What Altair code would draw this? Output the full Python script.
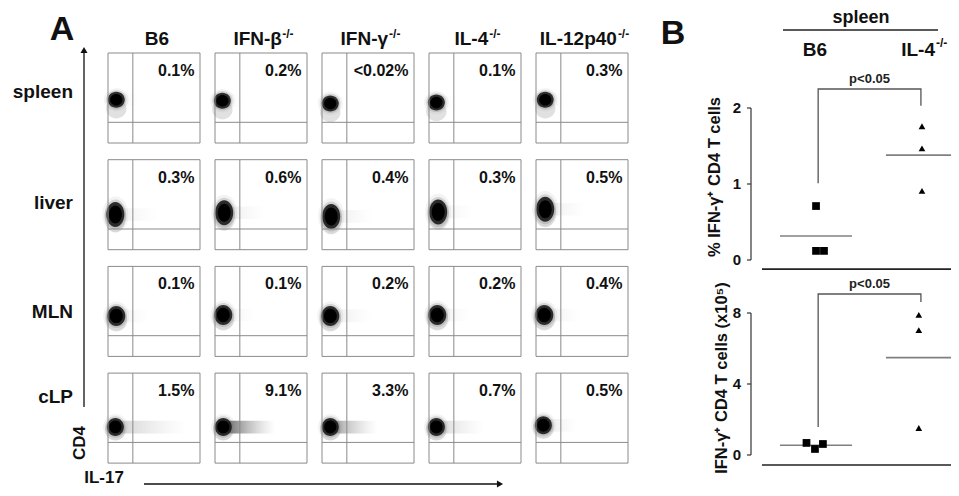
import altair as alt
import pandas as pd

# ---------------- data ----------------
tissues = ["spleen", "liver", "MLN", "cLP"]
strains = ["B6", "IFN-β", "IFN-γ", "IL-4", "IL-12p40"]
strain_sup = ["", "-/-", "-/-", "-/-", "-/-"]

pct_il17 = [
    ["0.1%", "0.2%", "<0.02%", "0.1%", "0.3%"],
    ["0.3%", "0.6%", "0.4%", "0.3%", "0.5%"],
    ["0.1%", "0.1%", "0.2%", "0.2%", "0.4%"],
    ["1.5%", "9.1%", "3.3%", "0.7%", "0.5%"],
]
# centre of the CD4+ IL-17- population (fraction of each plot axis)
pop_il17 = [
    [0.09, 0.08, 0.09, 0.08, 0.10],
    [0.08, 0.10, 0.10, 0.10, 0.10],
    [0.09, 0.09, 0.09, 0.09, 0.09],
    [0.08, 0.09, 0.09, 0.08, 0.08],
]
pop_cd4 = [
    [0.48, 0.47, 0.44, 0.45, 0.48],
    [0.39, 0.41, 0.37, 0.42, 0.45],
    [0.45, 0.46, 0.45, 0.46, 0.46],
    [0.40, 0.40, 0.40, 0.40, 0.42],
]
# reach and density of the IL-17+ tail of events
tail_end = [
    [0.35, 0.30, 0.30, 0.30, 0.35],
    [0.55, 0.55, 0.55, 0.50, 0.55],
    [0.45, 0.45, 0.55, 0.45, 0.50],
    [0.85, 0.65, 0.60, 0.60, 0.45],
]
tail_density = [
    [0.04, 0.04, 0.02, 0.04, 0.04],
    [0.07, 0.09, 0.09, 0.06, 0.08],
    [0.06, 0.06, 0.09, 0.07, 0.07],
    [0.22, 0.70, 0.45, 0.18, 0.10],
]
gate_il17 = 0.27
gate_cd4 = 0.23

groups_b = ["B6", "IL-4"]
pct_b6 = [0.71, 0.12, 0.12]
pct_il4 = [1.76, 1.47, 0.91]
num_b6 = [0.68, 0.34, 0.62]
num_il4 = [7.89, 7.04, 1.52]
jit_pct_b6 = [0.0, 0.0, 0.075]
jit_pct_il4 = [0.0, 0.0, 0.0]
jit_num_b6 = [-0.09, -0.01, 0.065]
jit_num_il4 = [-0.03, -0.03, -0.03]
ticks_pct = [0, 1, 2]
ticks_num = [0, 4, 8]
p_text = "p<0.05"

# ---------------- layout / style ----------------
FONT = "Liberation Sans"
W, H = 943, 480
A_X0, A_Y0 = 100, 45
BOX_W, BOX_H = 92, 90
PITCH_X, PITCH_Y = 107, 106.7
pu = PITCH_X / BOX_W
pv = PITCH_Y / BOX_H
xA = alt.Scale(domain=[0, 4 * pu + 1], range=[A_X0, A_X0 + 4 * PITCH_X + BOX_W], nice=False, zero=False)
yA = alt.Scale(domain=[0, 3 * pv + 1], range=[A_Y0 + 3 * PITCH_Y + BOX_H, A_Y0], nice=False, zero=False)
# blob (w, h) in px and downward spread of the lower tail, per tissue
blob_px = {"spleen": (17, 16), "liver": (18, 25), "MLN": (18, 20), "cLP": (17, 18)}
blob_drop = {"spleen": 0.10, "liver": 0.03, "MLN": 0.04, "cLP": 0.03}
label_fy = [0.57, 0.52, 0.49, 0.73]


def ellipse(a):
    return f"M{-a},0 A{a},1 0 1,0 {a},0 A{a},1 0 1,0 {-a},0 Z"


recs = []
for r, t in enumerate(tissues):
    bw, bh = blob_px[t]
    for c, s in enumerate(strains):
        x0 = c * pu
        y0 = (3 - r) * pv
        bx = x0 + pop_il17[r][c]
        by = y0 + pop_cd4[r][c]
        recs.append(dict(
            tissue=t, strain=s, pct=pct_il17[r][c],
            x0=x0, x1=x0 + 1, y0=y0, y1=y0 + 1,
            gx=x0 + gate_il17, gy=y0 + gate_cd4,
            bx=bx, by=by, by2=by - blob_drop[t],
            tx0=bx + 0.05, tx1=x0 + tail_end[r][c], ty0=by - 0.07, ty1=by + 0.07,
            dens=tail_density[r][c],
            px=x0 + 0.94, py=y0 + 0.80,
            shape=ellipse(bw / bh),
            s_in=(bh * 0.72) ** 2, s_core=bh ** 2, s_halo=(bh * 1.2) ** 2, s_out=(bh * 1.45) ** 2,
        ))
cells = pd.DataFrame(recs)

XA = lambda f: alt.X(f, scale=xA, axis=None)
YA = lambda f: alt.Y(f, scale=yA, axis=None)

grad = alt.LinearGradient(
    gradient="linear", x1=0, x2=1, y1=0, y2=0,
    stops=[alt.GradientStop(color="#333333", offset=0),
           alt.GradientStop(color="rgba(150,150,150,0)", offset=1)],
)
tails = alt.Chart(cells).mark_rect(color=grad).encode(
    x=XA("tx0:Q"), x2="tx1:Q", y=YA("ty0:Q"), y2="ty1:Q",
    opacity=alt.Opacity("dens:Q", scale=None))


def blob(yfield, size_field, color, op):
    return alt.Chart(cells).mark_point(filled=True, strokeWidth=0).encode(
        x=XA("bx:Q"), y=YA(f"{yfield}:Q"),
        shape=alt.Shape("shape:N", scale=None),
        size=alt.Size(f"{size_field}:Q", scale=None),
        color=alt.value(color), opacity=alt.value(op))


blobs = [
    blob("by", "s_out", "#999999", 0.12),
    blob("by2", "s_halo", "#888888", 0.25),
    blob("by", "s_halo", "#666666", 0.22),
    blob("by", "s_core", "#111111", 0.85),
    blob("by", "s_in", "#000000", 1.0),
]

boxes = alt.Chart(cells).mark_rect(fillOpacity=0, stroke="#8a8a8a", strokeWidth=1).encode(
    x=XA("x0:Q"), x2="x1:Q", y=YA("y0:Q"), y2="y1:Q")
vgate = alt.Chart(cells).mark_rule(color="#8a8a8a", strokeWidth=1).encode(
    x=XA("gx:Q"), y=YA("y0:Q"), y2="y1:Q")
hgate = alt.Chart(cells).mark_rule(color="#8a8a8a", strokeWidth=1).encode(
    x=XA("x0:Q"), x2="x1:Q", y=YA("gy:Q"))
pcts = alt.Chart(cells).mark_text(align="right", baseline="middle", font=FONT,
                                  fontWeight="bold", fontSize=16, color="#111").encode(
    x=XA("px:Q"), y=YA("py:Q"), text="pct:N")

rowlab = pd.DataFrame({"tissue": tissues,
                       "ly": [(3 - r) * pv + label_fy[r] for r in range(4)]})
rowlabels = alt.Chart(rowlab).mark_text(align="right", baseline="middle", font=FONT,
                                        fontWeight="bold", fontSize=19, color="#111").encode(
    x=alt.value(65), y=YA("ly:Q"), text="tissue:N")

# column titles with superscript
CW = {"B": 722, "6": 556, "I": 278, "F": 611, "N": 722, "-": 333, "β": 575, "γ": 556,
      "L": 611, "4": 556, "1": 556, "2": 556, "p": 611, "0": 556, "/": 278}


def tw(s, size):
    return sum(CW.get(ch, 556) for ch in s) / 1000 * size


title_layers = []
TS, SS = 19, 12
for c, (s, sup) in enumerate(zip(strains, strain_sup)):
    wm, ws = tw(s, TS), (tw(sup, SS) + 2 if sup else 0)
    start = 3 - (wm + ws) / 2
    d = pd.DataFrame({"cx": [c * pu + 0.5], "main": [s], "sup": [sup]})
    title_layers.append(alt.Chart(d).mark_text(align="left", baseline="alphabetic", dx=start,
                                               font=FONT, fontWeight="bold", fontSize=TS, color="#111").encode(
        x=XA("cx:Q"), y=alt.value(37), text="main:N"))
    if sup:
        title_layers.append(alt.Chart(d).mark_text(align="left", baseline="alphabetic", dx=start + wm + 1,
                                                   font=FONT, fontWeight="bold", fontSize=SS, color="#111").encode(
            x=XA("cx:Q"), y=alt.value(30), text="sup:N"))

panelA = alt.layer(tails, *blobs, boxes, vgate, hgate, pcts, rowlabels, *title_layers)

# ---------------- panel B ----------------
xB = alt.Scale(domain=[-0.51, 1.34], range=[754, 950], nice=False, zero=False)


def dot_panel(b6, il4, jb6, jil4, ticks, yrange, base, bracket, title, title_xy):
    ymin, ymax = ticks[0], ticks[-1]
    yB = alt.Scale(domain=[ymin, ymax], range=yrange, nice=False, zero=False)
    XB = lambda f: alt.X(f, scale=xB, axis=None)
    YB = lambda f: alt.Y(f, scale=yB, axis=None)
    df = pd.DataFrame({
        "group": ["B6"] * len(b6) + ["IL-4"] * len(il4),
        "gx": [0] * len(b6) + [1] * len(il4),
        "value": b6 + il4,
        "xpos": [j for j in jb6] + [1 + j for j in jil4],
    })
    sq = alt.Chart(df).transform_filter(alt.datum.group == "B6").mark_point(
        shape="square", filled=True, size=60, color="black", opacity=1).encode(
        x=XB("xpos:Q"), y=YB("value:Q"))
    tri = alt.Chart(df).transform_filter(alt.datum.group == "IL-4").mark_point(
        shape="triangle-up", filled=True, size=45, color="black", opacity=1).encode(
        x=XB("xpos:Q"), y=YB("value:Q"))
    mean = alt.Chart(df).transform_aggregate(m="mean(value)", groupby=["gx"]).transform_calculate(
        xl="datum.gx - 0.34", xr="datum.gx + 0.34").mark_rule(color="#808080", strokeWidth=1.6).encode(
        x=XB("xl:Q"), x2="xr:Q", y=YB("m:Q"))
    bx, by = bracket
    br = pd.DataFrame({"bx": bx, "by": by, "o": list(range(len(bx)))})
    brk = alt.Chart(br).mark_line(color="#555555", strokeWidth=1.3).encode(
        x=XB("bx:Q"), y=YB("by:Q"), order="o:O")
    ptxt = alt.Chart(pd.DataFrame({"x": [(bx[1] + bx[2]) / 2], "y": [by[1]], "t": [p_text]})).mark_text(
        baseline="bottom", dy=-3, font=FONT, fontWeight="bold", fontSize=13, color="#222").encode(
        x=XB("x:Q"), y=YB("y:Q"), text="t:N")
    basel = alt.Chart(pd.DataFrame({"y": [base], "a": [-0.51], "b": [1.34]})).mark_rule(
        color="#222", strokeWidth=1.6).encode(x=XB("a:Q"), x2="b:Q", y=YB("y:Q"))
    tk = pd.DataFrame({"t": ticks, "lab": [str(v) for v in ticks]})
    dom = alt.Chart(tk).transform_aggregate(lo="min(t)", hi="max(t)").mark_rule(
        color="#333", strokeWidth=1.2).encode(x=alt.value(743), y=YB("lo:Q"), y2="hi:Q")
    tks = alt.Chart(tk).mark_rule(color="#333", strokeWidth=1.2).encode(
        x=alt.value(739), x2=alt.value(743), y=YB("t:Q"))
    tlab = alt.Chart(tk).mark_text(align="center", baseline="middle", font=FONT, fontWeight="bold",
                                   fontSize=15, color="#111").encode(
        x=alt.value(729), y=YB("t:Q"), text="lab:N")
    ttl = alt.Chart(pd.DataFrame({"t": [title]})).mark_text(
        angle=270, align="center", baseline="middle", font=FONT, fontWeight="bold",
        fontSize=16.5, color="#111").encode(x=alt.value(title_xy[0]), y=alt.value(title_xy[1]), text="t:N")
    return alt.layer(mean, brk, ptxt, basel, dom, tks, tlab, ttl, sq, tri)


B_up = dot_panel(pct_b6, pct_il4, jit_pct_b6, jit_pct_il4, ticks_pct, [252, 100], -0.12,
                 ([0.02, 0.02, 0.99, 0.99], [1.01, 2.25, 2.25, 2.03]),
                 "% IFN-γ⁺ CD4 T cells", (707, 169))
B_lo = dot_panel(num_b6, num_il4, jit_num_b6, jit_num_il4, ticks_num, [447, 305], -0.56,
                 ([0.02, 0.02, 0.99, 0.99], [1.58, 9.07, 9.07, 8.62]),
                 "IFN-γ⁺ CD4 T cells (x10⁵)", (714, 370))

# ---------------- annotations ----------------
one = pd.DataFrame({"k": [0]})


def label(txt, x, y, size, **kw):
    kw.setdefault("baseline", "middle")
    kw.setdefault("align", "center")
    return alt.Chart(one).mark_text(text=txt, fontSize=size, font=FONT, fontWeight="bold",
                                    color="#111", **kw).encode(x=alt.value(x), y=alt.value(y))


ann = [
    label("A", 54, 22, 34),
    label("B", 665, 26, 34),
    label("CD4", 72, 435, 17, angle=270),
    label("IL-17", 96, 470, 17),
    alt.Chart(one).mark_rule(color="#111", strokeWidth=1.3).encode(
        x=alt.value(76), y=alt.value(44), y2=alt.value(399)),
    alt.Chart(one).mark_point(shape="triangle-up", filled=True, size=50, color="#111", opacity=1).encode(
        x=alt.value(76), y=alt.value(42)),
    alt.Chart(one).mark_rule(color="#111", strokeWidth=1.3).encode(
        x=alt.value(136), x2=alt.value(490), y=alt.value(476)),
    alt.Chart(one).mark_point(shape="triangle-right", filled=True, size=50, color="#111", opacity=1).encode(
        x=alt.value(492), y=alt.value(476)),
    label("spleen", 853, 10, 18),
    alt.Chart(one).mark_rule(color="#222", strokeWidth=1.3).encode(
        x=alt.value(775), x2=alt.value(930), y=alt.value(22)),
    label("B6", 807, 42, 19),
    label("IL-4", 915, 42, 19, align="right", dx=12),
    label("-/-", 928, 35, 12, align="left"),
]

chart = alt.layer(panelA, B_up, B_lo, *ann).resolve_scale(
    x="independent", y="independent"
).properties(
    width=W, height=H, padding=0, autosize=alt.AutoSizeParams(type="none")
).configure_view(stroke=None)

chart.save("out.html", embed_options={"renderer": "svg", "actions": False})
